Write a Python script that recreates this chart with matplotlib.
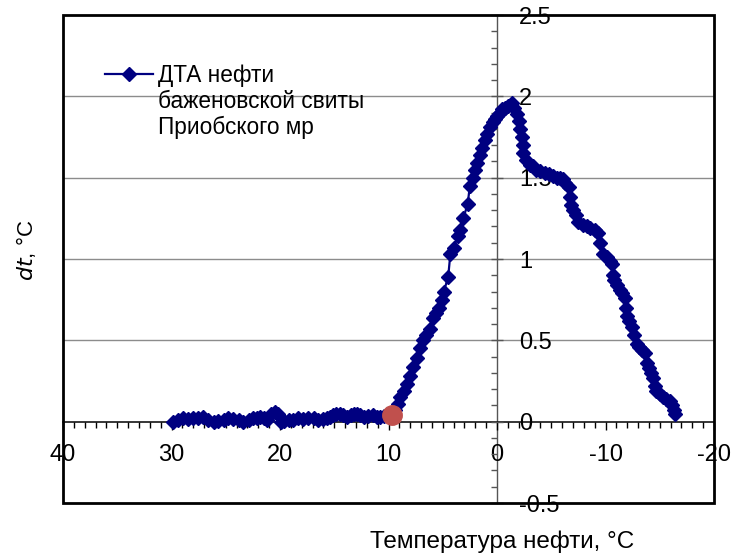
import matplotlib
matplotlib.use("Agg")
import matplotlib.pyplot as plt
from matplotlib.lines import Line2D
from matplotlib.patches import Rectangle
from matplotlib.ticker import MultipleLocator, FixedFormatter, FixedLocator

plt.rcParams['font.family'] = ['Liberation Sans', 'DejaVu Sans']

# Oil temperature, °C (cooling run, decreasing)
temp = [29.9, 29.4, 28.9, 28.5, 28.0, 27.6, 27.1, 26.6, 26.1, 25.7,
        25.2, 24.8, 24.3, 23.8, 23.4, 22.9, 22.5, 22.1, 21.8, 21.5,
        21.2, 20.8, 20.5, 20.2, 19.9, 19.6, 19.2, 18.8, 18.3, 17.9,
        17.4, 16.9, 16.5, 16.0, 15.7, 15.4, 15.1, 14.8, 14.5, 14.2,
        13.8, 13.5, 13.2, 12.9, 12.6, 12.3, 11.9, 11.4, 11.1, 10.8,
        10.4, 10.1,
        9.7, 9.4, 9.1, 8.9, 8.6, 8.3, 8.0, 7.7, 7.4, 7.1,
        6.8, 6.5, 6.2, 5.9, 5.6, 5.3, 5.1, 4.9, 4.5, 4.3,
        4.0, 3.6, 3.4, 3.1, 2.7, 2.5, 2.2, 2.0, 1.8, 1.6,
        1.4, 1.1, 0.9, 0.6, 0.4, 0.2, 0.0, -0.3, -0.5, -0.7,
        -1.0, -1.35,
        -1.6, -1.8, -2.0, -2.1, -2.3, -2.4, -2.4, -2.7, -3.0, -3.3,
        -3.6, -4.0, -4.4, -4.8, -5.2, -5.5, -5.8, -6.1, -6.3, -6.6,
        -6.7, -6.8, -7.0, -7.3, -7.5, -7.9, -8.3, -8.6, -9.0, -9.3,
        -9.5, -9.8, -10.1, -10.4, -10.6, -10.7, -10.8, -11.1, -11.3, -11.5,
        -11.8, -11.9, -12.0, -12.2, -12.4, -12.6, -12.9, -13.1, -13.4, -13.6,
        -13.8, -14.0, -14.2, -14.4, -14.6, -14.7, -15.0, -15.3, -15.6, -15.9,
        -16.1, -16.3, -16.4]

# Differential temperature dt, °C
dt = [0.00, 0.01, 0.02, 0.015, 0.02, 0.025, 0.03, 0.01, 0.00, 0.005,
      0.01, 0.02, 0.015, 0.01, 0.00, 0.01, 0.02, 0.025, 0.03, 0.02,
      0.01, 0.05, 0.06, 0.05, 0.00, 0.005, 0.01, 0.01, 0.02, 0.015,
      0.02, 0.02, 0.01, 0.015, 0.02, 0.03, 0.04, 0.05, 0.045, 0.04,
      0.03, 0.04, 0.05, 0.045, 0.04, 0.03, 0.035, 0.04, 0.03, 0.03,
      0.035, 0.04,
      0.04, 0.07, 0.11, 0.15, 0.19, 0.23, 0.28, 0.335, 0.39, 0.45,
      0.50, 0.53, 0.57, 0.64, 0.67, 0.70, 0.75, 0.80, 0.89, 1.03,
      1.07, 1.14, 1.18, 1.25, 1.34, 1.45, 1.50, 1.55, 1.59, 1.64,
      1.68, 1.73, 1.77, 1.81, 1.84, 1.86, 1.88, 1.90, 1.92, 1.93,
      1.94, 1.96,
      1.93, 1.89, 1.85, 1.80, 1.75, 1.70, 1.65, 1.61, 1.58, 1.57,
      1.55, 1.54, 1.53, 1.52, 1.51, 1.50, 1.50, 1.49, 1.47, 1.44,
      1.38, 1.33, 1.30, 1.27, 1.23, 1.21, 1.20, 1.19, 1.18, 1.16,
      1.10, 1.03, 1.01, 0.99, 0.97, 0.90, 0.87, 0.84, 0.81, 0.79,
      0.76, 0.70, 0.65, 0.62, 0.58, 0.53, 0.48, 0.46, 0.44, 0.42,
      0.36, 0.33, 0.30, 0.27, 0.22, 0.19, 0.17, 0.15, 0.14, 0.13,
      0.10, 0.07, 0.05]

# Onset of the exothermic effect
onset_temp = [9.7]
onset_dt = [0.04]

series_label = "ДТА нефти\nбаженовской свиты\nПриобского мр"
x_label = "Температура нефти, °C"

x_ticks = [40, 30, 20, 10, 0, -10, -20]
x_tick_labels = ["40", "30", "20", "10", "0", "-10", "-20"]
y_ticks = [-0.5, 0, 0.5, 1, 1.5, 2, 2.5]
y_tick_labels = ["-0.5", "0", "0.5", "1", "1.5", "2", "2.5"]

navy = "#000080"
W, H = 732, 558
fig = plt.figure(figsize=(W / 100, H / 100), dpi=100)
ax = fig.add_axes([63 / W, 1 - 503 / H, (714 - 63) / W, (503 - 15) / H])

ax.set_xlim(40, -20)
ax.set_ylim(-0.5, 2.5)

# horizontal grid lines
for g in [0.5, 1.0, 1.5, 2.0]:
    ax.axhline(g, color="#8c8c8c", lw=1.0, zorder=1)

# axes crossing at the origin
ax.spines['left'].set_position(('data', 0))
ax.spines['right'].set_position(('data', 0))
ax.spines['bottom'].set_position(('data', 0))
ax.spines['right'].set_visible(False)
ax.spines['top'].set_visible(False)
ax.spines['left'].set_color("#555555")
ax.spines['left'].set_linewidth(1.0)
ax.spines['bottom'].set_color("black")
ax.spines['bottom'].set_linewidth(1.1)
ax.spines['left'].set_zorder(1.5)
ax.spines['bottom'].set_zorder(1.5)

ax.xaxis.set_major_locator(FixedLocator(x_ticks))
ax.xaxis.set_major_formatter(FixedFormatter(x_tick_labels))
ax.xaxis.set_minor_locator(MultipleLocator(1))
ax.yaxis.set_major_locator(FixedLocator(y_ticks))
ax.yaxis.set_major_formatter(FixedFormatter(y_tick_labels))
ax.yaxis.set_minor_locator(MultipleLocator(0.1))

ax.tick_params(axis='x', which='major', direction='out', length=5.5, width=1,
               color='black', labelsize=17, pad=10.5)
ax.tick_params(axis='x', which='minor', direction='out', length=4, width=1,
               color='black')
ax.tick_params(axis='y', which='major', direction='inout', length=9, width=1,
               color='#555555', left=True, right=False, labelleft=False,
               labelright=True, labelsize=17, pad=11.5)
ax.tick_params(axis='y', which='minor', direction='out', length=4, width=1,
               color='#555555', left=True, right=False)
for lbl in ax.get_yticklabels():
    lbl.set_horizontalalignment('left')

ax.plot(temp, dt, color=navy, lw=1.6, marker='D', markersize=7.4,
        markerfacecolor=navy, markeredgecolor=navy, markeredgewidth=1,
        zorder=3)
ax.plot(onset_temp, onset_dt, linestyle='none', marker='o', markersize=14,
        color="#c0504d", zorder=4)

# outer frame of the plot area
ax.add_patch(Rectangle((0, 0), 1, 1, transform=ax.transAxes, fill=False,
                       edgecolor='black', lw=2.0, clip_on=False, zorder=5))

# legend
fig.add_artist(Line2D([105 / W, 129 / W, 153 / W], [1 - 74 / H] * 3,
                      color=navy, lw=1.6, marker='D', markersize=7,
                      markevery=[1], markerfacecolor=navy,
                      markeredgecolor=navy))
fig.text(158 / W, 1 - 64 / H, series_label, fontsize=16.3, ha='left',
         va='top', linespacing=1.17)

fig.text(502 / W, 1 - 542 / H, x_label, fontsize=17.5, ha='center',
         va='center')
fig.text(26 / W, 1 - 250 / H, r"$\mathit{dt}$, °C", fontsize=16,
         rotation=90, ha='center', va='center')

fig.savefig("out.png", dpi=100)
